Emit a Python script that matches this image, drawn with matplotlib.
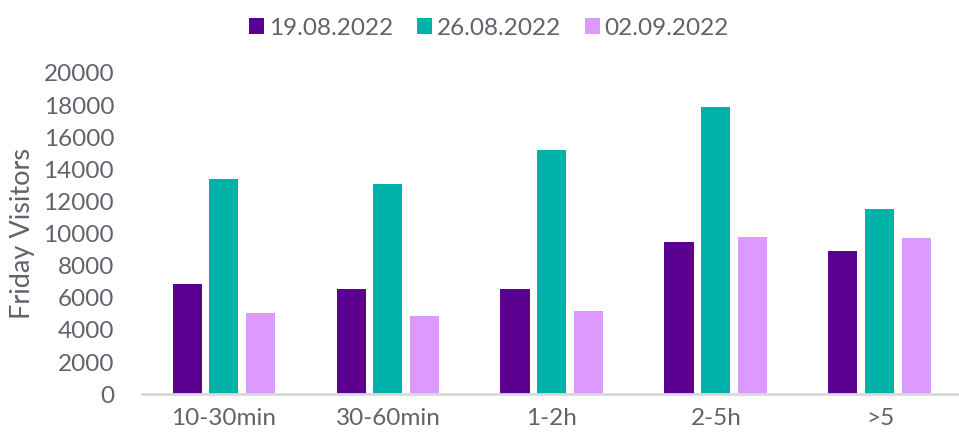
import numpy as np
import matplotlib
matplotlib.use("Agg")
import matplotlib.pyplot as plt

# ─── Data ─────────────────────────────────────────────────────────────
CATEGORIES = ["10-30min", "30-60min", "1-2h", "2-5h", ">5"]
SERIES     = ["19.08.2022", "26.08.2022", "02.09.2022"]

V_1908 = [6850, 6550, 6550, 9470, 8930]
V_2608 = [13420, 13090, 15180, 17860, 11530]
V_0209 = [5050, 4880, 5210, 9760, 9700]

COLORS = ["#5c0091", "#00b3a8", "#dd99fd"]
TEXT   = "#62626c"

plt.rcParams["font.family"] = ["Lato", "DejaVu Sans"]

fig = plt.figure(figsize=(9.59, 4.37), dpi=100)
ax = fig.add_axes([0.148, 0.098, 0.855, 0.735])

x = np.arange(len(CATEGORIES))
width = 0.177
step = 0.225
for i, (vals, name) in enumerate(zip([V_1908, V_2608, V_0209], SERIES)):
    ax.bar(x + (i - 1) * step, vals, width=width, color=COLORS[i], label=name)

ax.set_xlim(-0.5, 4.5)
ax.set_ylim(0, 20000)
ax.set_yticks(np.arange(0, 20001, 2000))
ax.set_xticks(x)
ax.set_xticklabels(CATEGORIES)
ax.tick_params(axis="both", length=0, labelsize=17.5, colors=TEXT)
ax.tick_params(axis="y", pad=20)
ax.tick_params(axis="x", pad=10)

for s in ("top", "right", "left"):
    ax.spines[s].set_visible(False)
ax.spines["bottom"].set_color("#d9d9d9")
ax.spines["bottom"].set_linewidth(2)

ax.set_ylabel("Friday Visitors", fontsize=19.5, color=TEXT, labelpad=6)

fig.legend(loc="upper center", bbox_to_anchor=(0.51, 1.01), ncol=3,
           frameon=False, fontsize=17.5, handlelength=0.6, handleheight=0.6,
           handletextpad=0.2, columnspacing=1.0, labelcolor=TEXT)

fig.savefig("out.png", dpi=100)
